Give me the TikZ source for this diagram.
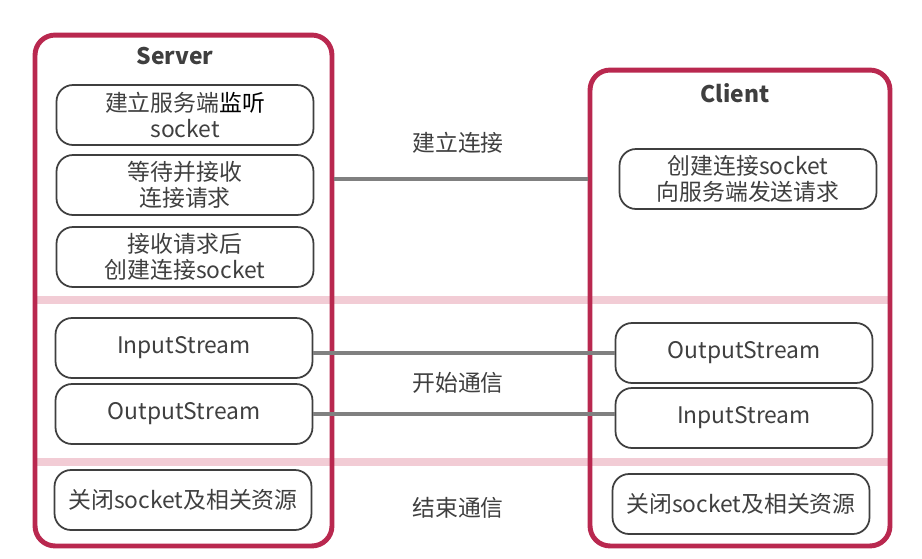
\documentclass[tikz,border=0pt]{standalone}
\usepackage{fontspec}
\setmainfont{Noto Sans CJK SC}
\usepackage{tikz}

\definecolor{frm}{HTML}{B9284F}
\definecolor{bnd}{HTML}{F2CCD5}
\definecolor{txt}{HTML}{3F3F3F}
\definecolor{lnk}{HTML}{808080}

\begin{document}
\begin{tikzpicture}[x=0.02cm, y=-0.02cm,
    every node/.style={font=\fontsize{13}{15}\selectfont, text=txt},
    frame/.style={draw=frm, line width=2.8pt, rounded corners=0.4cm, inner sep=0pt},
    blk/.style={draw=txt, line width=1pt, rounded corners=0.33cm, align=center,
      minimum width=5.14cm, minimum height=1.2cm, inner sep=1pt},
    band/.style={draw=bnd, line width=4pt},
    link/.style={draw=lnk, line width=2.8pt}]
    \useasboundingbox (0, 0) rectangle (922, 558);
    % separators
    \draw [band] (35, 300) -- (890, 300);
    \draw [band] (35, 462) -- (890, 462);
    % frames
    \node [frame, minimum width=5.94cm, minimum height=10.22cm] (srv) at (183.5, 290.5) {};
    \node [frame, minimum width=6cm, minimum height=9.52cm] (clt) at (740, 308) {};
    \node (st) at (175, 56) {\bfseries Server};
    \node (ct) at (735, 93) {\bfseries Client};
    % server side
    \node [blk] (s1) at (185, 115) {建立服务端{\color{black}监听}\\socket};
    \node [blk] (s2) at (185, 185) {等待并接收\\连接请求};
    \node [blk] (s3) at (185, 257) {接收请求后\\创建连接socket};
    \node [blk] (s4) at (184, 348) {InputStream};
    \node [blk] (s5) at (184, 414) {OutputStream};
    \node [blk] (s6) at (183, 500) {关闭socket及相关资源};
    % client side
    \node [blk] (c1) at (748, 179) {创建连接socket\\向服务端发送请求};
    \node [blk] (c2) at (744, 353) {OutputStream};
    \node [blk] (c3) at (744, 418) {InputStream};
    \node [blk] (c4) at (741, 504) {关闭socket及相关资源};
    % phases
    \node (p1) at (458, 143) {建立连接};
    \node (p2) at (458, 383) {开始通信};
    \node (p3) at (458, 508) {结束通信};
    \draw [link] (c1.west -| srv.east) to node {} (c1.west -| clt.west);
    \draw [link] (c2.west -| s4.east) to node {} (c2.west);
    \draw [link] (s5.east) to node {} (s5.east -| c3.west);
  \end{tikzpicture}
\end{document}
